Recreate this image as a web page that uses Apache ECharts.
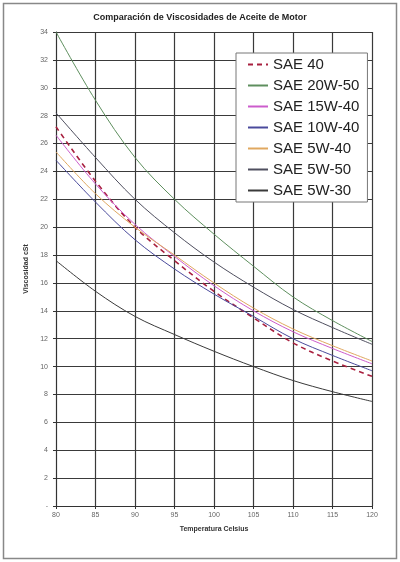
<!DOCTYPE html>
<html>
<head>
<meta charset="utf-8">
<script src="https://cdn.jsdelivr.net/npm/echarts@6/dist/echarts.min.js"></script>
<style>
  html, body { margin: 0; padding: 0; background: #fff; }
  #chart { width: 400px; height: 562px; }
</style>
</head>
<body>
<div id="chart"></div>
<script>
// temperatures (Celsius)
var temps = [80, 85, 90, 95, 100, 105, 110, 115, 120];
var yTicks = [0, 2, 4, 6, 8, 10, 12, 14, 16, 18, 20, 22, 24, 26, 28, 30, 32, 34];

// viscosidad cSt por aceite
var sae40    = [27.2, 23.3, 20.0, 17.6, 15.4, 13.5, 11.7, 10.4, 9.3];
var sae20w50 = [34.0, 29.1, 25.0, 22.0, 19.5, 17.2, 15.0, 13.3, 11.8];
var sae15w40 = [26.6, 23.1, 20.2, 17.9, 15.8, 14.0, 12.5, 11.3, 10.2];
var sae10w40 = [24.8, 21.8, 19.1, 17.0, 15.2, 13.6, 12.0, 10.8, 9.7];
var sae5w40  = [25.4, 22.4, 20.0, 18.0, 16.0, 14.2, 12.7, 11.5, 10.4];
var sae5w50  = [28.2, 25.0, 22.0, 19.6, 17.5, 15.7, 14.1, 12.8, 11.6];
var sae5w30  = [17.6, 15.4, 13.6, 12.3, 11.1, 10.0, 9.0, 8.2, 7.5];

var names  = ['SAE 40', 'SAE 20W-50', 'SAE 15W-40', 'SAE 10W-40', 'SAE 5W-40', 'SAE 5W-50', 'SAE 5W-30'];
var values = [sae40, sae20w50, sae15w40, sae10w40, sae5w40, sae5w50, sae5w30];
var colors = ['#a8203f', '#5e8f5e', '#cc5ccc', '#4a4a9c', '#e0a860', '#4f4f5f', '#3a3a3a'];

function pairs(arr) {
	var out = [];
	for (var i = 0; i < temps.length; i++) out.push([temps[i], arr[i]]);
	return out;
}

var chart = echarts.init(document.getElementById('chart'));

var series = [];
for (var i = 0; i < names.length; i++) {
	series.push({
		name: names[i],
		type: 'line',
		data: pairs(values[i]),
		smooth: 0.35,
		symbol: 'none',
		lineStyle: {
			color: colors[i],
			width: i === 0 ? 1.6 : 1,
			type: i === 0 ? [5, 4] : 'solid'
		},
		itemStyle: { color: colors[i] }
	});
}

var option = {
	backgroundColor: '#fff',
	animation: false,
	title: {
		text: 'Comparación de Viscosidades de Aceite de Motor',
		left: 'center',
		top: 8,
		textStyle: { fontFamily: 'Liberation Sans', fontSize: 9, fontWeight: 'bold', color: '#222' }
	},
	graphic: [{
		type: 'rect',
		shape: { x: 3.5, y: 3.5, width: 393, height: 555 },
		style: { fill: 'none', stroke: '#888', lineWidth: 1.5 },
		silent: true
	}],
	legend: {
		orient: 'vertical',
		left: 236,
		top: 53,
		data: names,
		itemWidth: 20,
		itemHeight: 14,
		itemGap: 6,
		padding: [4, 8, 4, 11],
		backgroundColor: '#fff',
		borderColor: '#777',
		borderWidth: 1,
		itemStyle: { opacity: 0 },
		textStyle: { fontFamily: 'Liberation Sans', fontSize: 15, color: '#222' }
	},
	grid: { left: 56, right: 28, top: 32, bottom: 56 },
	xAxis: {
		type: 'value',
		min: 80, max: 120, interval: 5,
		name: 'Temperatura Celsius',
		nameLocation: 'middle',
		nameGap: 20,
		nameTextStyle: { fontFamily: 'Liberation Sans', fontSize: 7, fontWeight: 'bold', color: '#333' },
		axisLine: { show: true, lineStyle: { color: '#333' } },
		axisTick: { show: true, length: 3, lineStyle: { color: '#333' } },
		axisLabel: { fontFamily: 'Liberation Sans', fontSize: 7, color: '#666', margin: 6 },
		splitLine: { show: true, lineStyle: { color: '#3a3a3a', width: 1.2 } }
	},
	yAxis: {
		type: 'value',
		min: 0, max: 34, interval: 2,
		name: 'Viscosidad cSt',
		nameLocation: 'middle',
		nameGap: 26,
		nameTextStyle: { fontFamily: 'Liberation Sans', fontSize: 7, fontWeight: 'bold', color: '#333' },
		axisLine: { show: true, lineStyle: { color: '#333' } },
		axisTick: { show: true, length: 3, lineStyle: { color: '#333' } },
		axisLabel: {
			fontFamily: 'Liberation Sans', fontSize: 7, color: '#666', margin: 8,
			formatter: function (v) { return v === yTicks[0] ? '-' : String(v); }
		},
		splitLine: { show: true, lineStyle: { color: '#3a3a3a', width: 1.2 } }
	},
	series: series
};

chart.setOption(option);
</script>
</body>
</html>
